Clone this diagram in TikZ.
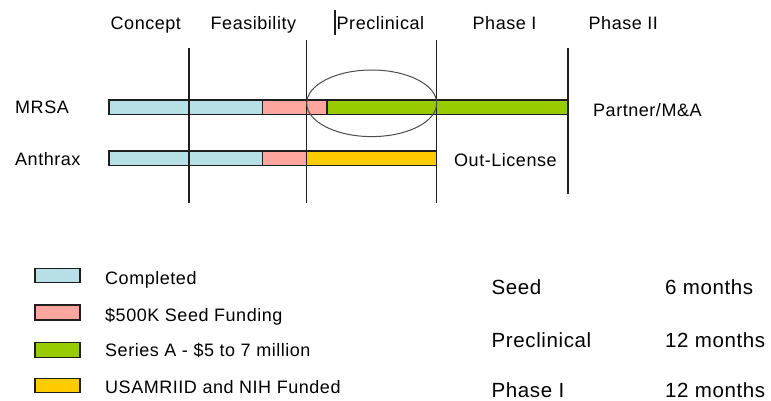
\documentclass[tikz,border=0pt]{standalone}
\usepackage{fontspec}
\setmainfont[LetterSpace=3]{Liberation Sans}
\definecolor{cblue}{RGB}{183,223,230}
\definecolor{cpink}{RGB}{255,166,158}
\definecolor{cgreen}{RGB}{153,204,0}
\definecolor{cyellow}{RGB}{255,204,0}
\definecolor{cline}{RGB}{30,30,30}
\begin{document}
\begin{tikzpicture}[x=1pt,y=-1pt,
  lbl/.style={inner sep=0pt,anchor=base west,font=\fontsize{18}{20}\selectfont},
  big/.style={inner sep=0pt,anchor=base west,text depth=0pt,font=\fontsize{20.5}{22}\selectfont},
  seg/.style={draw=cline,line width=1.3pt},
  vline/.style={draw=cline,line width=1.3pt},
  oval/.style={draw=black!70,line width=1pt}]
\useasboundingbox (0,0) rectangle (771,401);
% headers
\node[lbl] (hconcept) at (110.5,29.5) {Concept};
\node[lbl] (hfeas) at (210.5,29.5) {Feasibility};
\node[lbl] (hpre) at (336.5,29.5) {Preclinical};
\node[lbl] (hp1) at (472.5,29.5) {Phase I};
\node[lbl] (hp2) at (588.5,29.5) {Phase II};
\draw[vline] (335,10) -- (335,35);
% row labels
\node[lbl] (mrsa) at (15,113.5) {MRSA};
\node[lbl] (anthrax) at (15,165.5) {Anthrax};
\node[lbl] (partner) at (593,116.5) {Partner/M\&A};
\node[lbl] (outlic) at (454,166.5) {Out-License};
% MRSA bar
\draw[seg,fill=cblue] (109,100) rectangle (262.5,114.3);
\draw[seg,fill=cpink] (262.5,100) rectangle (327,114.3);
\draw[seg,fill=cgreen] (327,100) rectangle (568,114.3);
% Anthrax bar
\draw[seg,fill=cblue] (109,151) rectangle (262.5,165.5);
\draw[seg,fill=cpink] (262.5,151) rectangle (306.7,165.5);
\draw[seg,fill=cyellow] (306.7,151) rectangle (436.7,165.5);
% vertical phase lines
\coordinate (v1t) at (189,48);   \coordinate (v1b) at (189,202.7);
\coordinate (v2t) at (306.7,40); \coordinate (v2b) at (306.7,202.7);
\coordinate (v3t) at (436.7,40); \coordinate (v3b) at (436.7,202.7);
\coordinate (v4t) at (568,48);   \coordinate (v4b) at (568,194.3);
\draw[vline] (v1t) -- (v1b);
\draw[vline] (v2t) -- (v2b);
\draw[vline] (v3t) -- (v3b);
\draw[vline] (v4t) -- (v4b);
% ellipse
\draw[oval] (371.7,103.3) ellipse [x radius=65, y radius=33.3];
% legend
\draw[seg,fill=cblue] (35,268.3) rectangle (80,282.7);
\draw[seg,fill=cpink] (35,305) rectangle (80,320);
\draw[seg,fill=cgreen] (35,342.7) rectangle (80,357.3);
\draw[seg,fill=cyellow] (35,378.3) rectangle (80,392.7);
\node[lbl] (l1) at (105,284.3) {Completed};
\node[lbl] (l2) at (105,321.5) {\$500K Seed Funding};
\node[lbl] (l3) at (105,356.7) {Series A - \$5 to 7 million};
\node[lbl] (l4) at (105,393.5) {USAMRIID and NIH Funded};
% durations
\node[big] (s1) at (491.5,294.3) {Seed};
\node[big] (s2) at (491.5,347.3) {Preclinical};
\node[big] (s3) at (491.5,397) {Phase I};
\node[big] (d1) at (665,294.3) {6 months};
\node[big] (d2) at (665,347.3) {12 months};
\node[big] (d3) at (665,397) {12 months};
\end{tikzpicture}
\end{document}
